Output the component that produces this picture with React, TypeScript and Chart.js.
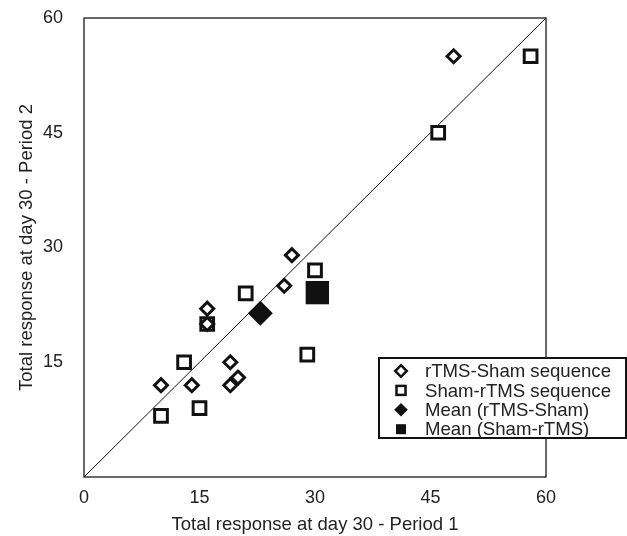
import React, { useEffect, useRef } from 'react';
import { Chart, registerables } from 'chart.js';

Chart.register(...registerables);

// ---- Data ----
const rtmsShamX = [48, 27, 26, 16, 16, 19, 20, 19, 14, 10];
const rtmsShamY = [55, 29, 25, 22, 20, 15, 13, 12, 12, 12];
const shamRtmsX = [58, 46, 30, 21, 16, 29, 13, 15, 10];
const shamRtmsY = [55, 45, 27, 24, 20, 16, 15, 9, 8];
const meanRtmsShamXY = [22.9, 21.4];
const meanShamRtmsXY = [30.3, 24.1];
const identityEnds = [0, 60];
const axisTickValues = [0, 15, 30, 45, 60];
const seriesLabels = [
  'rTMS-Sham sequence',
  'Sham-rTMS sequence',
  'Mean (rTMS-Sham)',
  'Mean (Sham-rTMS)',
];
const xAxisTitle = 'Total response at day 30 - Period 1';
const yAxisTitle = 'Total response at day 30 - Period 2';

const FONT = "'Liberation Sans', Arial, Helvetica, sans-serif";
const INK = '#111111';
const TEXT = '#222222';

function toPoints(xs: number[], ys: number[]) {
  return xs.map((x, i) => ({ x, y: ys[i] }));
}

export default function App() {
  const ref = useRef<HTMLCanvasElement>(null);

  useEffect(() => {
    document.body.style.margin = '0';
    const canvas = ref.current;
    if (!canvas) return;

    const drawDiamond = (c: CanvasRenderingContext2D, x: number, y: number, r: number, filled: boolean) => {
      c.beginPath();
      c.moveTo(x, y - r);
      c.lineTo(x + r, y);
      c.lineTo(x, y + r);
      c.lineTo(x - r, y);
      c.closePath();
      if (filled) {
        c.fillStyle = INK;
        c.fill();
      } else {
        c.fillStyle = '#fff';
        c.fill();
        c.lineWidth = 2.5;
        c.strokeStyle = INK;
        c.stroke();
      }
    };
    const drawSquare = (c: CanvasRenderingContext2D, x: number, y: number, h: number, filled: boolean) => {
      if (filled) {
        c.fillStyle = INK;
        c.fillRect(x - h, y - h, 2 * h, 2 * h);
      } else {
        c.fillStyle = '#fff';
        c.fillRect(x - h, y - h, 2 * h, 2 * h);
        c.lineWidth = 2.5;
        c.strokeStyle = INK;
        c.strokeRect(x - h, y - h, 2 * h, 2 * h);
      }
    };

    const framePlugin = {
      id: 'frameBox',
      beforeDatasetsDraw(chart: any) {
        const { left, top, right, bottom } = chart.chartArea;
        const c = chart.ctx as CanvasRenderingContext2D;
        c.save();
        c.strokeStyle = '#1a1a1a';
        c.lineWidth = 1.3;
        c.strokeRect(left, top, right - left, bottom - top);
        c.restore();
      },
    };

    const legendPlugin = {
      id: 'boxLegend',
      afterDraw(chart: any) {
        const { left, bottom } = chart.chartArea;
        const c = chart.ctx as CanvasRenderingContext2D;
        const bx = left + 295;
        const by = bottom - 119;
        const bw = chart.width - bx - 1;
        const bh = 80;
        c.save();
        c.fillStyle = '#fff';
        c.fillRect(bx, by, bw, bh);
        c.strokeStyle = INK;
        c.lineWidth = 2;
        c.strokeRect(bx, by, bw, bh);
        const labels = chart.data.datasets
          .filter((d: any) => d.label && seriesLabels.includes(d.label))
          .map((d: any) => d.label);
        labels.forEach((label: string, i: number) => {
          const cy = by + 13 + i * 19.4;
          const sx = bx + 22;
          if (i === 0) drawDiamond(c, sx, cy, 5.8, false);
          if (i === 1) drawSquare(c, sx, cy, 4.5, false);
          if (i === 2) drawDiamond(c, sx, cy, 6.8, true);
          if (i === 3) drawSquare(c, sx, cy, 5, true);
          c.fillStyle = TEXT;
          c.font = `18.6px ${FONT}`;
          c.textBaseline = 'middle';
          c.textAlign = 'left';
          c.fillText(label, bx + 46, cy + 1);
        });
        c.restore();
      },
    };

    const chart = new Chart(canvas, {
      type: 'scatter',
      data: {
        datasets: [
          {
            label: seriesLabels[0],
            data: toPoints(rtmsShamX, rtmsShamY),
            pointStyle: 'rectRot',
            pointRadius: 6.5,
            borderWidth: 3,
            borderColor: INK,
            backgroundColor: '#ffffff',
            order: 2,
          },
          {
            label: seriesLabels[1],
            data: toPoints(shamRtmsX, shamRtmsY),
            pointStyle: 'rect',
            pointRadius: 9,
            borderWidth: 3,
            borderColor: INK,
            backgroundColor: '#ffffff',
            order: 3,
          },
          {
            label: seriesLabels[2],
            data: [{ x: meanRtmsShamXY[0], y: meanRtmsShamXY[1] }],
            pointStyle: 'rectRot',
            pointRadius: 12.5,
            borderWidth: 0,
            borderColor: INK,
            backgroundColor: INK,
            order: 1,
          },
          {
            label: seriesLabels[3],
            data: [{ x: meanShamRtmsXY[0], y: meanShamRtmsXY[1] }],
            pointStyle: 'rect',
            pointRadius: 16.5,
            borderWidth: 0,
            borderColor: INK,
            backgroundColor: INK,
            order: 1,
          },
          {
            label: 'identity',
            data: identityEnds.map((v) => ({ x: v, y: v })),
            showLine: true,
            borderColor: INK,
            borderWidth: 1,
            pointRadius: 0,
            order: 10,
          } as any,
        ],
      },
      options: {
        responsive: false,
        animation: false,
        devicePixelRatio: 1,
        layout: { padding: { top: 18, right: 81, bottom: 0, left: 0 } },
        plugins: {
          legend: { display: false },
          tooltip: { enabled: false },
        },
        scales: {
          x: {
            type: 'linear',
            min: axisTickValues[0],
            max: axisTickValues[axisTickValues.length - 1],
            afterBuildTicks: (s: any) => {
              s.ticks = axisTickValues.map((v) => ({ value: v }));
            },
            afterFit: (s: any) => {
              s.height = 59;
              s.paddingLeft = 0;
              s.paddingRight = 0;
            },
            grid: { display: false, drawTicks: false },
            border: { display: false },
            ticks: {
              padding: 10,
              color: TEXT,
              font: { family: FONT, size: 18 },
            },
            title: {
              display: true,
              text: xAxisTitle,
              color: TEXT,
              font: { family: FONT, size: 18.5 },
              padding: { top: 0, bottom: 0 },
            },
          },
          y: {
            type: 'linear',
            min: axisTickValues[0],
            max: axisTickValues[axisTickValues.length - 1],
            afterBuildTicks: (s: any) => {
              s.ticks = axisTickValues.map((v) => ({ value: v }));
            },
            afterFit: (s: any) => {
              s.width = 84;
              s.paddingTop = 0;
              s.paddingBottom = 0;
            },
            grid: { display: false, drawTicks: false },
            border: { display: false },
            ticks: {
              padding: 21,
              color: TEXT,
              font: { family: FONT, size: 18 },
              callback: (v: any) => (v === 0 ? '' : String(v)),
            },
            title: {
              display: true,
              text: yAxisTitle,
              color: TEXT,
              font: { family: FONT, size: 18.5 },
              padding: { top: 16, bottom: 0 },
            },
          },
        },
      },
      plugins: [framePlugin, legendPlugin],
    } as any);

    return () => chart.destroy();
  }, []);

  return (
    <div style={{ width: 627, height: 536, position: 'relative' }}>
      <canvas ref={ref} width={627} height={536} style={{ display: 'block' }} />
    </div>
  );
}
